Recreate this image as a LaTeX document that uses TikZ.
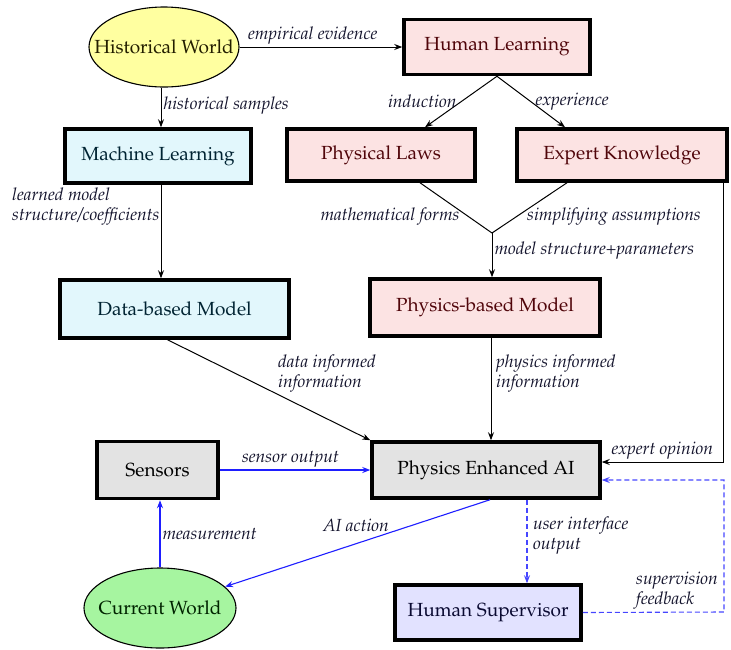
\documentclass[tikz,border=0pt]{standalone}
\usepackage[T1]{fontenc}
\usepackage{mathpazo}
\usetikzlibrary{arrows.meta,shapes.geometric,calc}
\definecolor{hwfill}{RGB}{255,255,160}
\definecolor{pinkfill}{RGB}{252,227,227}
\definecolor{cyanfill}{RGB}{226,247,252}
\definecolor{grayfill}{RGB}{227,227,227}
\definecolor{greenfill}{RGB}{166,245,160}
\definecolor{lavfill}{RGB}{226,226,255}
\definecolor{labcol}{RGB}{20,20,45}
\definecolor{redtxt}{RGB}{80,5,10}
\definecolor{tealtxt}{RGB}{0,35,50}
\definecolor{greentxt}{RGB}{0,35,0}
\definecolor{navytxt}{RGB}{10,10,50}
\definecolor{olivetxt}{RGB}{35,30,0}
\definecolor{lineblue}{RGB}{30,30,255}
\definecolor{dashblue}{RGB}{70,70,255}
\tikzset{
  box/.style={draw, line width=3.5pt, font=\fontsize{19}{22}\selectfont, inner sep=2pt},
  ell/.style={draw, ellipse, line width=1.1pt, font=\fontsize{19}{22}\selectfont, inner sep=0pt},
  lab/.style={font=\fontsize{17.5}{19.5}\selectfont\itshape, text=labcol, inner sep=2pt},
  arr/.style={-{Stealth[length=8pt,width=6pt]}, line width=1pt},
  plain/.style={line width=1pt},
  barr/.style={-{Stealth[length=8pt,width=6pt]}, line width=1.1pt, draw=lineblue},
  darr/.style={-{Stealth[length=8pt,width=6pt]}, line width=1.1pt, draw=dashblue, dash pattern=on 5pt off 3pt},
}
\begin{document}
\begin{tikzpicture}[x=1pt,y=-1pt]
\useasboundingbox (0,0) rectangle (731,649);
% nodes
\node[ell, fill=hwfill, text=olivetxt, minimum width=150, minimum height=80] (hw) at (164,47) {\makebox[0pt]{Historical World}};
\node[box, fill=pinkfill, text=redtxt, minimum width=186, minimum height=55] (hl) at (497,47) {Human Learning};
\node[box, fill=cyanfill, text=tealtxt, minimum width=186, minimum height=54] (ml) at (158,156) {Machine Learning};
\node[box, fill=pinkfill, text=redtxt, minimum width=188, minimum height=52] (pl) at (381,155) {Physical Laws};
\node[box, fill=pinkfill, text=redtxt, minimum width=210, minimum height=52] (ek) at (622,155) {Expert Knowledge};
\coordinate (jn) at (492,233);
\node[box, fill=cyanfill, text=tealtxt, minimum width=229, minimum height=58] (dbm) at (174.5,309) {Data-based Model};
\node[box, fill=pinkfill, text=redtxt, minimum width=230, minimum height=57] (pbm) at (485,307.5) {Physics-based Model};
\node[box, fill=grayfill, text=black, minimum width=228, minimum height=56] (peai) at (486,470) {Physics Enhanced AI};
\node[box, fill=grayfill, text=black, minimum width=121, minimum height=57] (sen) at (157.5,470) {Sensors};
\node[ell, fill=greenfill, text=greentxt, minimum width=152, minimum height=80] (cw) at (160,608) {\makebox[0pt]{Current World}};
\node[box, fill=lavfill, text=navytxt, minimum width=186, minimum height=55] (hs) at (488,612.5) {Human Supervisor};
% connectors
\coordinate (hsx) at (161,0);
\draw[arr] (hw) -- node[lab, above, pos=0.45] {empirical evidence} (hl);
\draw[arr] (hsx |- hw.south) -- node[lab, right, pos=0.45] {historical samples} (hsx |- ml.north);
\coordinate (plt) at (425,0);
\coordinate (ekt) at (565,0);
\draw[arr] (hl.south) -- node[lab, left, pos=0.5, xshift=-2pt] {induction} (plt |- pl.north);
\draw[arr] (hl.south) -- node[lab, right, pos=0.5, xshift=2pt] {experience} (ekt |- ek.north);
\coordinate (plb) at (420,0);
\coordinate (ekb) at (567,0);
\draw[plain] (plb |- pl.south) -- (jn);
\draw[plain] (ekb |- ek.south) -- (jn);
\node[lab] (mf) at (390,217) {mathematical forms};
\node[lab] (sa) at (614,217) {simplifying assumptions};
\draw[arr] (jn) -- node[lab, right, pos=0.4] {model structure+parameters} (jn |- pbm.north);
\draw[arr] (hsx |- ml.south) -- (hsx |- dbm.north);
\node[lab, anchor=north west, align=left] (lm) at (10,186) {learned model\\structure/coefficients};
\draw[arr] ($(dbm.south)+(-7,0)$) -- (peai.north west);
\node[lab, anchor=north west, align=left] (di) at (276,353) {data informed\\information};
\coordinate (pbx) at (491,0);
\draw[arr] (pbx |- pbm.south) -- (pbx |- peai.north);
\node[lab, anchor=north west, align=left] (pi) at (494,353) {physics informed\\information};
\coordinate (eoc) at (723,462);
\draw[arr] (ek.south -| eoc) -- (eoc) -- node[lab, above, pos=0.5] {expert opinion} (peai.east |- eoc);
\draw[barr] (sen.east) -- node[lab, above, pos=0.47] {sensor output} (sen.east -| peai.west);
\coordinate (msx) at (160,0);
\draw[barr] (msx |- cw.north) -- node[lab, right, pos=0.5] {measurement} (msx |- sen.south);
\draw[barr] ($(peai.south)+(4,0)$) -- (cw);
\node[lab] (aia) at (356,525) {AI action};
\coordinate (uix) at (527,0);
\draw[darr] (uix |- peai.south) -- (uix |- hs.north);
\node[lab, anchor=north west, align=left] (ui) at (531,515) {user interface\\output};
\coordinate (sfc) at (724,612);
\coordinate (sft) at (724,480);
\draw[darr] (hs.east) -- (sfc) -- (sft) -- (peai.east |- sft);
\node[lab, anchor=north west, align=left] (sf) at (634,570) {supervision\\feedback};
\end{tikzpicture}
\end{document}
